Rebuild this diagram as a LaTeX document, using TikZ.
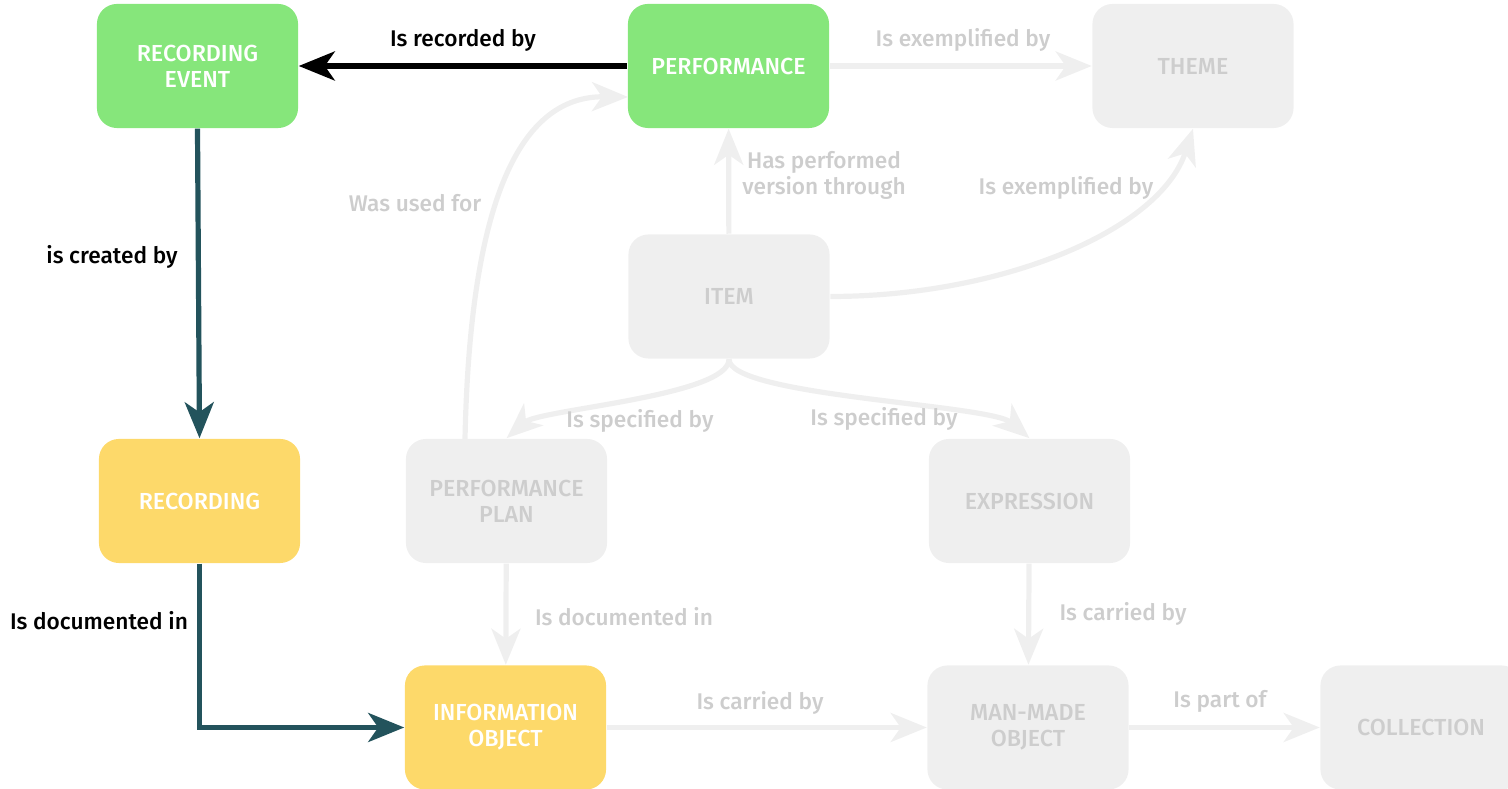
\documentclass[tikz,border=0pt]{standalone}
\usepackage{fontspec}
\setmainfont{Fira Sans}[UprightFont={* Medium},BoldFont={* SemiBold}]
\usetikzlibrary{arrows.meta}
\definecolor{boxgreen}{HTML}{86E67B}
\definecolor{boxyellow}{HTML}{FDD96A}
\definecolor{boxgrey}{HTML}{EFEFEF}
\definecolor{textgrey}{HTML}{CDCDCD}
\definecolor{linkteal}{HTML}{23535C}
\begin{document}
\begin{tikzpicture}[x=0.01cm,y=-0.01cm,
  entity/.style={rounded corners=0.2cm,minimum width=2.01cm,minimum height=1.24cm,
    inner sep=0pt,align=center,text=white,font=\fontsize{6.6}{7.4}\selectfont},
  live/.style={entity,fill=boxgreen},
  doc/.style={entity,fill=boxyellow},
  faded/.style={entity,fill=boxgrey,text=textgrey},
  link/.style={line width=0.052cm,-{Stealth[length=0.36cm,width=0.29cm,inset=0.1cm]}},
  rel/.style={font=\fontsize{6.45}{7.4}\selectfont,align=center,inner sep=0pt},
  greyrel/.style={rel,text=textgrey}]
\useasboundingbox (0,0) rectangle (1508,789);
% boxes
\node[live] (recevent) at (197.5,66) {RECORDING\\EVENT};
\node[live] (perf) at (728.5,66) {PERFORMANCE};
\node[faded] (theme) at (1193,66) {THEME};
\node[faded] (item) at (729,296.5) {ITEM};
\node[doc] (rec) at (199.5,501) {RECORDING};
\node[faded] (plan) at (506.5,501) {PERFORMANCE\\PLAN};
\node[faded] (expr) at (1029.5,501) {EXPRESSION};
\node[doc] (info) at (505.5,727.5) {INFORMATION\\OBJECT};
\node[faded] (mmo) at (1028,727.5) {MAN-MADE\\OBJECT};
\node[faded] (coll) at (1421,727.5) {COLLECTION};
\coordinate (usedfrom) at (465,439);
\coordinate (usedto) at (628,97);
% grey relations
\draw[link,boxgrey] (perf) -- (theme);
\draw[link,boxgrey] (item) -- (perf);
\draw[link,boxgrey] (item.east) .. controls +(171,0) and +(-33,102) .. (theme.south);
\draw[link,boxgrey] (item.south) .. controls +(0,37) and +(33,-29) .. (plan.north);
\draw[link,boxgrey] (item.south) .. controls +(0,37) and +(-39.5,-34) .. (expr.north);
\draw[link,boxgrey] (usedfrom) .. controls +(5,-239) and +(-108,-1) .. (usedto);
\draw[link,boxgrey] (plan) -- (info);
\draw[link,boxgrey] (expr) -- (mmo);
\draw[link,boxgrey] (info) -- (mmo);
\draw[link,boxgrey] (mmo) -- (coll);
% highlighted path
\draw[link,black] (perf) -- (recevent);
\draw[link,linkteal] (recevent.south) -- (rec.north);
\draw[link,linkteal] (rec.south) |- (info.west);
% labels
\node[rel] (lrecby) at (463,40) {Is recorded by};
\node[rel] (lcreated) at (112,257) {is created by};
\node[rel] (ldocrec) at (99,621) {Is documented in};
\node[greyrel] (lexperf) at (963,40) {Is exemplified by};
\node[greyrel] (lhasperf) at (824,175) {Has performed\\version through};
\node[greyrel] (lexitem) at (1066,188) {Is exemplified by};
\node[greyrel] (lused) at (415,203) {Was used for};
\node[greyrel] (lspecl) at (640,421) {Is specified by};
\node[greyrel] (lspecr) at (884,419) {Is specified by};
\node[greyrel] (ldocplan) at (624,617) {Is documented in};
\node[greyrel] (lcarexpr) at (1123,614) {Is carried by};
\node[greyrel] (lcarinfo) at (760,703) {Is carried by};
\node[greyrel] (lpart) at (1220,701) {Is part of};
\end{tikzpicture}
\end{document}
